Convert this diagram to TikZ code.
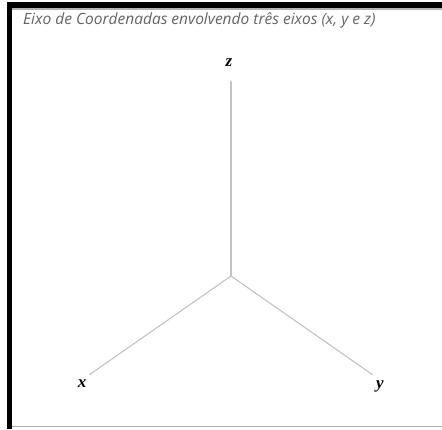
\documentclass[tikz,border=0pt]{standalone}
\usepackage{fontspec}
\usepackage{xcolor}
\usetikzlibrary{arrows.meta}
\newfontfamily\titlefont{Open Sans}
\newfontfamily\axisfont{Liberation Serif}

\definecolor{axisgray}{RGB}{195,195,195}
\definecolor{titlegray}{RGB}{100,100,100}

\tikzset{
  axisline/.style={draw=axisgray, line width=1.1pt, -{Stealth[length=3pt,width=2.2pt]}},
  axislabel/.style={font=\axisfont\bfseries\itshape\fontsize{17}{17}\selectfont, inner sep=0pt}
}

\begin{document}
\begin{tikzpicture}[x=1pt, y=-1pt]
    \useasboundingbox (0,0) rectangle (442,429);
    \fill[white] (0,0) rectangle (442,429);

    % Window frame
    \fill[black] (7,2) rectangle (442,8);
    \fill[black] (7,2) rectangle (12,429);
    \fill[gray!60] (12,8) rectangle (442,9.5);
    \fill[gray!60] (12,425.5) rectangle (442,427);

    % Title
    \node[anchor=west, inner sep=0pt, text=titlegray,
          font=\titlefont\itshape\fontsize{15.5}{16}\selectfont] (title) at (23,20)
          {Eixo de Coordenadas envolvendo três eixos (x, y e z)};

    % Origin and axis ends
    \coordinate (O) at (231,276);
    \coordinate (zend) at (231,80);
    \coordinate (xend) at (89,375);
    \coordinate (yend) at (373,375);

    % Axes
    \draw[axisline] (O) -- (zend);
    \draw[axisline] (O) -- (xend);
    \draw[axisline] (O) -- (yend);

    % Labels
    \node[axislabel] (zlab) at (229,63) {z};
    \node[axislabel] (xlab) at (82,384) {x};
    \node[axislabel] (ylab) at (380,386) {y};
\end{tikzpicture}
\end{document}
